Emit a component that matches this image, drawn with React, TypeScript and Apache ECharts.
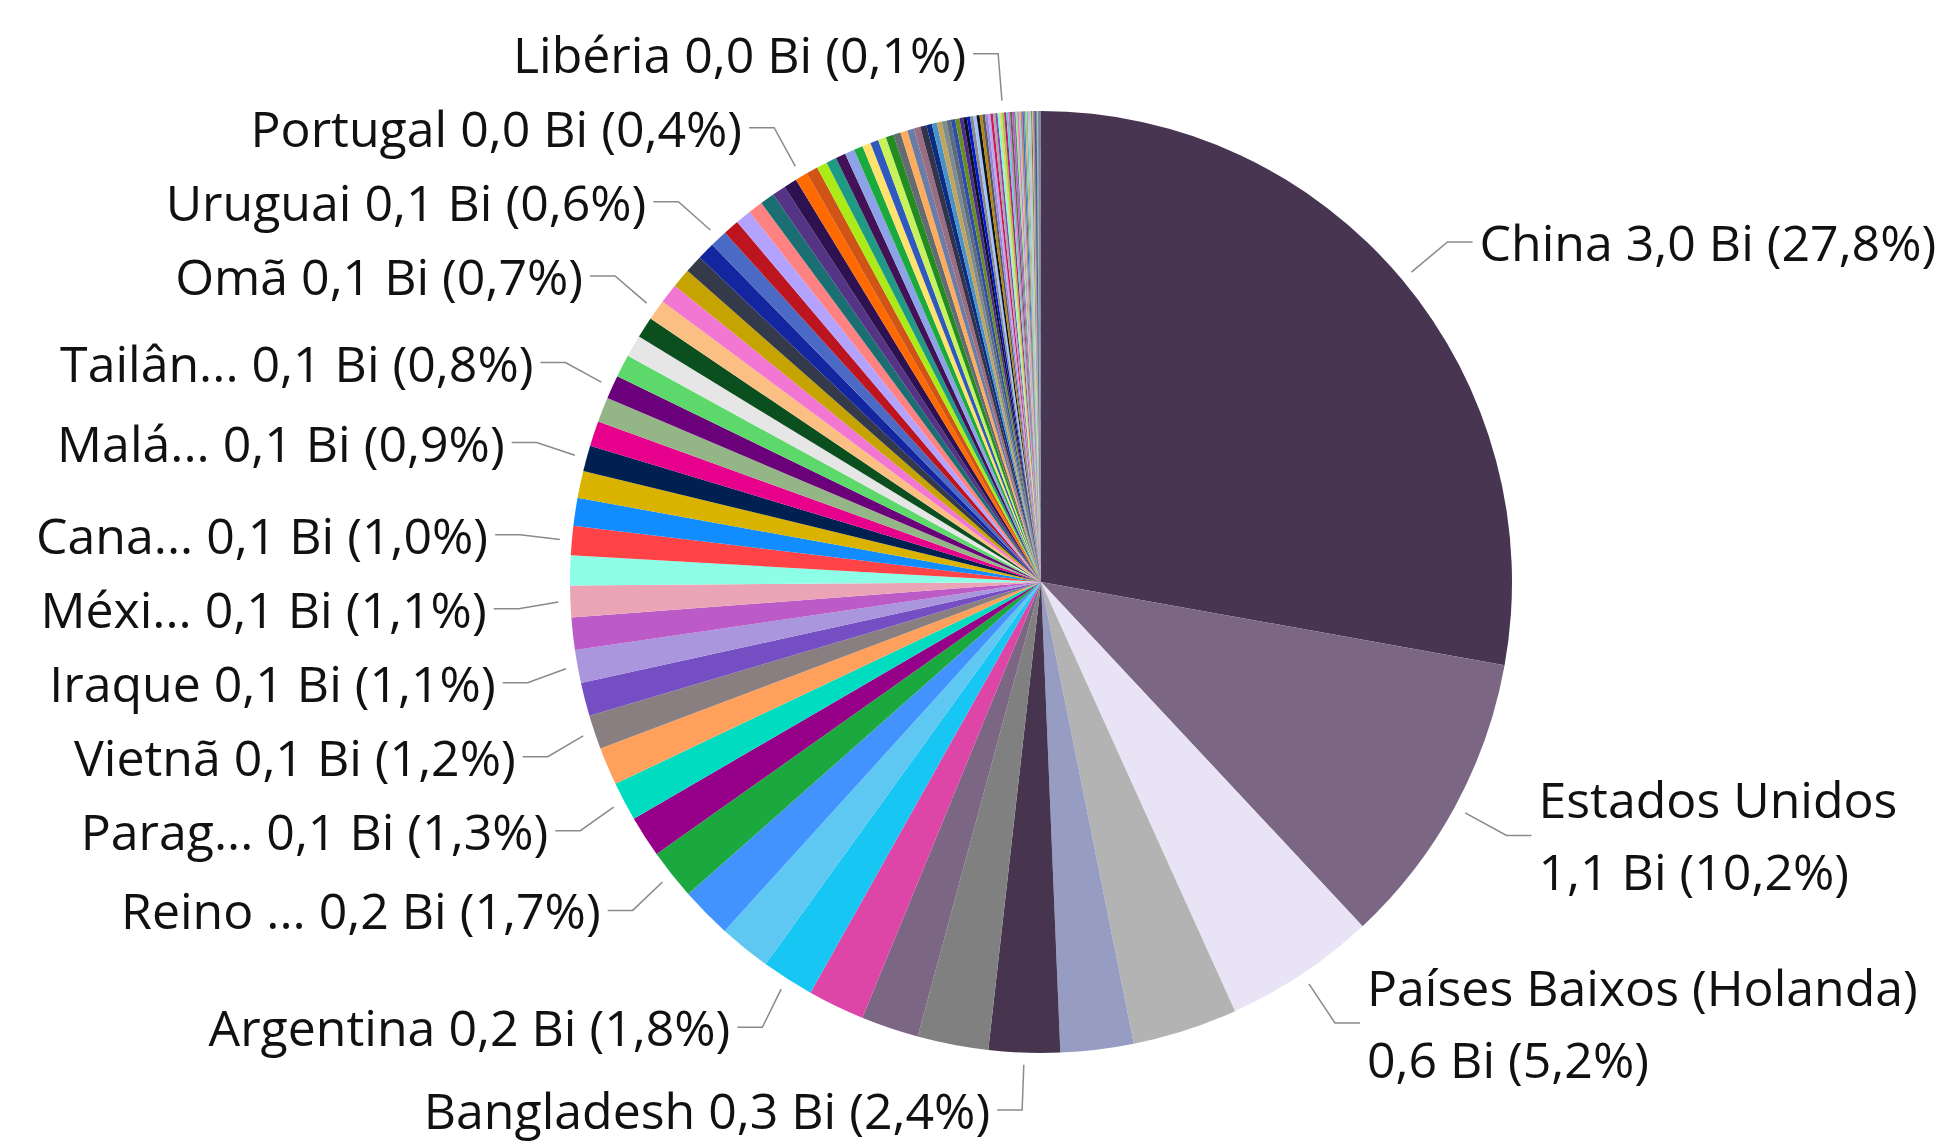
import React, { useEffect, useRef } from "react";
import * as echarts from "echarts";

// Export destination countries, sorted as in the reference (values in millions)
const countries: string[] = [
  "China", "Estados Unidos", "Países Baixos (Holanda)", "Espanha", "Índia",
  "Bangladesh", "Chile", "Japão", "Coreia do Sul", "Argentina",
  "Alemanha", "Itália", "Reino Unido", "Bélgica", "Paraguai",
  "Arábia Saudita", "Vietnã", "Singapura", "Iraque", "Egito",
  "México", "Emirados Árabes Unidos", "Canadá", "França", "Turquia",
  "Malásia", "Peru", "Colômbia", "Tailândia", "Indonésia",
  "Filipinas", "Argélia", "Omã", "Marrocos", "Bolívia",
  "Taiwan", "Hong Kong", "Uruguai", "Irã", "Paquistão",
  "Nigéria", "Polônia", "Israel", "Equador", "Portugal",
  "Austrália", "África do Sul", "Venezuela", "Suíça", "Rússia",
  "Angola", "Panamá", "Ucrânia", "Dinamarca", "República Dominicana",
  "Suécia", "Noruega", "Grécia", "Irlanda", "Cuba",
  "Costa Rica", "Guatemala", "Senegal", "Gana", "Tunísia",
  "Jordânia", "Líbano", "Kuwait", "Catar", "Bahrein",
  "Iêmen", "Sri Lanka", "Myanmar", "Camboja", "Nova Zelândia",
  "Romênia", "Hungria", "Áustria", "Finlândia", "Chéquia",
  "Eslovênia", "Croácia", "Libéria", "Bulgária", "Lituânia",
  "Letônia", "Estônia", "Honduras", "El Salvador", "Nicarágua",
  "Haiti", "Jamaica", "Trinidad e Tobago", "Guiana", "Suriname",
  "Moçambique", "Cabo Verde", "Guiné", "Costa do Marfim", "Camarões",
  "Benin", "Togo", "Mauritânia", "Líbia", "Sudão",
  "Etiópia", "Quênia", "Tanzânia", "Gabão", "Congo",
  "Serra Leoa", "Gâmbia", "Madagascar", "Maurício", "Malta",
  "Chipre", "Islândia", "Luxemburgo", "Geórgia", "Cazaquistão",
];

const valuesMi: number[] = [
  3000, 1101, 561, 388, 270,
  263, 262, 213, 210, 194,
  192, 189, 186, 153, 144,
  140, 126, 123, 122, 119,
  117, 110, 108, 103, 100,
  95, 93, 92, 87, 84,
  81, 78, 76, 73, 71,
  66, 65, 64, 59, 58,
  54, 53, 50, 49, 46,
  43, 39, 38, 37, 36,
  33, 31, 30, 30, 29,
  27, 26, 25, 24, 23,
  20, 19, 18, 17, 17,
  16, 16, 14, 13, 12,
  12, 12, 11, 10, 10,
  10, 10, 9, 9, 8,
  8, 8, 8, 8, 7,
  7, 7, 7, 6, 6,
  6, 6, 6, 6, 5,
  5, 5, 4, 4, 4,
  4, 3, 3, 3, 3,
  3, 3, 2, 2, 2,
  2, 1, 1, 1, 1,
  0.8, 0.5, 0.3, 0.2, 0.1,
];

// Labels shown in the reference (display name as truncated there; \n = wrapped)
const labelNames: Record<string, string> = {
  "China": "China",
  "Estados Unidos": "Estados Unidos\n",
  "Países Baixos (Holanda)": "Países Baixos (Holanda)\n",
  "Bangladesh": "Bangladesh",
  "Argentina": "Argentina",
  "Reino Unido": "Reino ...",
  "Paraguai": "Parag...",
  "Vietnã": "Vietnã",
  "Iraque": "Iraque",
  "México": "Méxi...",
  "Canadá": "Cana...",
  "Malásia": "Malá...",
  "Tailândia": "Tailân...",
  "Omã": "Omã",
  "Uruguai": "Uruguai",
  "Portugal": "Portugal",
  "Libéria": "Libéria",
};

const mainColors: string[] = [
  "#483552", "#7B6784", "#E8E4F5", "#B3B3B3", "#979CC3",
  "#473550", "#808080", "#7B6684", "#DD46A6", "#17C6F2",
  "#5EC8F3", "#4393FF", "#1BA83F", "#960088", "#00DCC0",
  "#FFA05C", "#8A7F80", "#744EC2", "#AA96DC", "#BC5BC7",
  "#EBA4B6", "#8CFFE6", "#FF4346", "#118DFF", "#D9B300",
  "#002050", "#E6008C", "#94B586", "#6B007B", "#5CD96A",
  "#E6E6E6", "#0C4F1F", "#FBBF83", "#F277D3", "#C5A300",
  "#343A4A", "#1326A0", "#4B6AC5", "#BC1520", "#B3A3FF",
  "#FF8282", "#1B6E72", "#553385", "#2D1150", "#FF6A00",
  "#CF5416", "#ABEB18", "#1E9A85", "#431155", "#8DA3E8",
  "#1BAA3E", "#FFE16E", "#3059BF", "#C7F25C", "#228B22",
];

const tailColors: string[] = [
  "#646B71", "#FFAC5C", "#6B7DA6", "#9B6D82", "#33334A",
  "#0A2D82", "#4892C9", "#C2A45C", "#7F8C8D", "#5D6D7E",
  "#2E4CA8", "#6B8E23", "#4B2C8C", "#111122", "#0018D0",
  "#8A8A8A", "#A4C2F4", "#0B1320", "#B8860B", "#595959",
  "#9A84E0", "#B7A9E8", "#D4145A", "#A9A9A9", "#8E44AD",
  "#7FFFD4", "#E5D36B", "#9ACD32", "#C71585", "#40E0D0",
  "#DA70D6", "#556B2F", "#BA55D3", "#708090", "#90EE90",
  "#FF69B4", "#87CEEB", "#CD853F", "#6A5ACD", "#20B2AA",
  "#F4A460", "#66CDAA", "#B0C4DE", "#DDA0DD", "#98E07A",
];

const fmt1 = (n: number) => n.toFixed(1).replace(".", ",");

export default function App() {
  const ref = useRef<HTMLDivElement>(null);

  useEffect(() => {
    if (!ref.current) return;
    const chart = echarts.init(ref.current, undefined, { renderer: "svg" });
    const total = valuesMi.reduce((a, b) => a + b, 0);
    const cx = 1041;
    const cy = 582;

    const data = countries.map((name, i) => {
      const color = i < mainColors.length ? mainColors[i] : tailColors[(i - mainColors.length) % tailColors.length];
      const shown = labelNames[name];
      const v = valuesMi[i];
      const item: any = { name, value: v, itemStyle: { color } };
      if (shown !== undefined) {
        const sep = shown.endsWith("\n") ? "" : " ";
        const text = `${shown}${sep}${fmt1(v / 1000)} Bi (${fmt1((v / total) * 100)}%)`;
        item.label = { show: true, formatter: text };
        item.labelLine = { show: true };
      }
      return item;
    });

    chart.setOption({
      animation: false,
      backgroundColor: "#ffffff",
      series: [
        {
          type: "pie",
          center: [cx, cy],
          radius: 471,
          startAngle: 90,
          clockwise: true,
          avoidLabelOverlap: true,
          bleedMargin: 0,
          emphasis: { disabled: true },
          itemStyle: { borderWidth: 0 },
          label: {
            show: false,
            position: "outside",
            fontFamily: "Open Sans",
            fontSize: 50,
            lineHeight: 72,
            color: "#111111",
            overflow: "none",
            distanceToLabelLine: 7,
          },
          labelLine: {
            show: false,
            length: 59,
            length2: 25,
            smooth: false,
            lineStyle: { color: "#8a8a8a", width: 1.5 },
          },
          labelLayout: (p: any) => {
            const pts = p.labelLinePoints;
            if (!pts) return {};
            const a = pts[0];
            const dx = a[0] - cx;
            const dy = a[1] - cy;
            const d = Math.hypot(dx, dy) || 1;
            pts[0] = [a[0] + (dx / d) * 12, a[1] + (dy / d) * 12];
            return { labelLinePoints: pts };
          },
          data,
        },
      ],
    });

    return () => chart.dispose();
  }, []);

  return (
    <div
      ref={ref}
      style={{ position: "fixed", left: 0, top: 0, width: 1945, height: 1147 }}
    />
  );
}
